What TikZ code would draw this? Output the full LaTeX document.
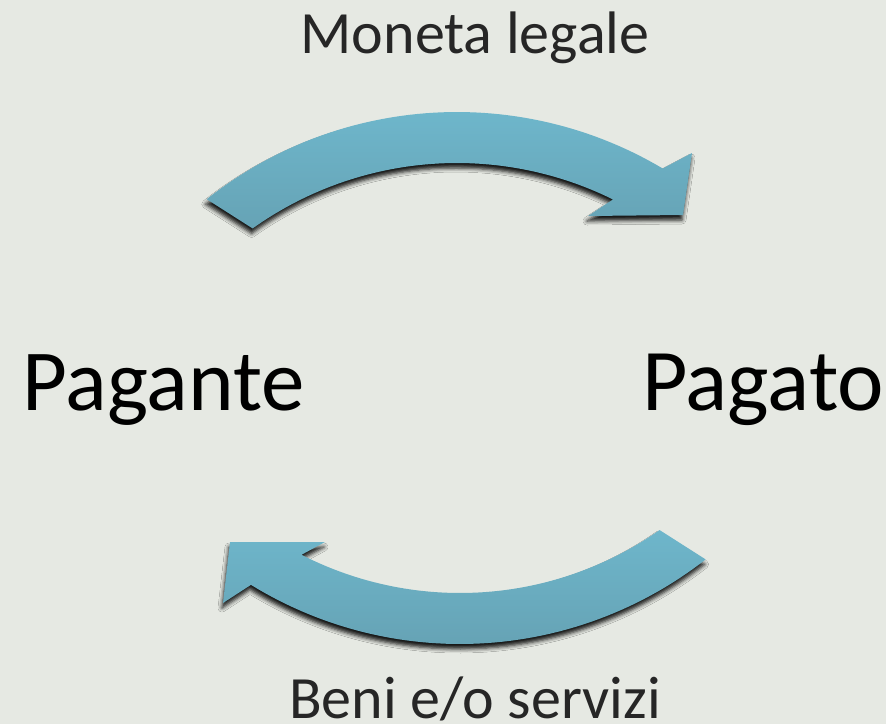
\documentclass[tikz,border=0pt]{standalone}
\usepackage{fontspec}
\setmainfont{Carlito}
\usetikzlibrary{shadows.blur}
\definecolor{bg}{RGB}{230,233,227}
\definecolor{arrtop}{RGB}{110,182,203}
\definecolor{arrbot}{RGB}{102,163,181}
\definecolor{txtgray}{RGB}{38,38,38}
\tikzset{
  bigtext/.style={font=\fontsize{87}{100}\selectfont, text=black, inner sep=0pt, anchor=base},
  smalltext/.style={font=\fontsize{60}{70}\selectfont, text=txtgray, inner sep=0pt, anchor=base},
  fatarrow/.style={top color=arrtop, bottom color=arrbot, draw=none,
    blur shadow={shadow xshift=-1pt, shadow yshift=-5pt, shadow blur radius=4pt, shadow opacity=90}}
}
\begin{document}
\begin{tikzpicture}[x=1pt,y=-1pt]
\fill[bg] (0,0) rectangle (886,724);
\useasboundingbox (0,0) rectangle (886,724);

% top arrow (Pagante -> Pagato)
\path[fatarrow]
  plot[domain=128.4:59.3, samples=60] ({457+403*cos(\x)}, {515-403*sin(\x)})
  -- (692,153) -- (683,215) -- (588,216)
  -- plot[domain=63.7:125.5, samples=60] ({457+352*cos(\x)}, {515-352*sin(\x)})
  -- cycle;

% bottom arrow (Pagato -> Pagante)
\path[fatarrow]
  plot[domain=52:121.6, samples=60] ({460+399*cos(\x)}, {245+399*sin(\x)})
  -- (223,603) -- (230,542) -- (325,542)
  -- plot[domain=117.1:55, samples=60] ({460+348*cos(\x)}, {245+348*sin(\x)})
  -- cycle;

\node[smalltext] (moneta) at (475,53) {Moneta legale};
\node[bigtext] (pagante) at (163.5,410) {Pagante};
\node[bigtext] (pagato) at (763,410) {\fontsize{88}{100}\selectfont Pagato};
\node[smalltext] (beni) at (475,718) {Beni e/o servizi};
\end{tikzpicture}
\end{document}
